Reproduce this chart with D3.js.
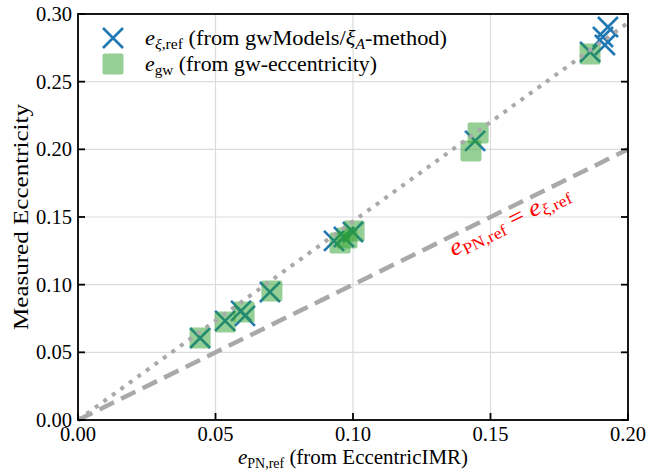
<!DOCTYPE html>
<html>
<head>
<meta charset="utf-8">
<script src="https://cdn.jsdelivr.net/npm/d3@7"></script>
<style>
  body { margin: 0; background: #fff; }
  svg { display: block; }
  text { font-family: "Liberation Serif", "DejaVu Serif", serif; }
</style>
</head>
<body>
<svg id="chart" width="653" height="475"></svg>
<script>
// e_PN,ref (EccentricIMR) vs e_xi,ref (gwModels / xi_A method)
const xiPN = [0.0444, 0.0535, 0.0593, 0.0607, 0.0698, 0.0931, 0.0967, 0.1000, 0.1444, 0.1862, 0.1916, 0.1909, 0.1927];
const xiE  = [0.0606, 0.0732, 0.0806, 0.0769, 0.0946, 0.1323, 0.1352, 0.1389, 0.2062, 0.2719, 0.2771, 0.2830, 0.2904];

// e_PN,ref vs e_gw (gw-eccentricity)
const gwPN = [0.0444, 0.0535, 0.0604, 0.0705, 0.0953, 0.0978, 0.1004, 0.1429, 0.1455, 0.1862];
const gwE  = [0.0606, 0.0725, 0.0798, 0.0953, 0.1308, 0.1345, 0.1397, 0.1988, 0.2120, 0.2704];

// trend line and equality line
const trendX = [0, 0.2];
const trendY = [0, 0.2935];
const equalX = [0, 0.2];
const equalY = [0, 0.2];

const xTicks = [0, 0.05, 0.10, 0.15, 0.20];
const yTicks = [0, 0.05, 0.10, 0.15, 0.20, 0.25, 0.30];

const W = 653, H = 475;
const m = { left: 78, right: 25, top: 14, bottom: 55 };
const svg = d3.select("#chart");

const x = d3.scaleLinear().domain([0, 0.2]).range([m.left, W - m.right]);
const y = d3.scaleLinear().domain([0, 0.3]).range([H - m.bottom, m.top]);

const blue = "#1f77b4", green = "#2ca02c", grey = "#a9a9a9";

// grid
const grid = svg.append("g");
grid.selectAll(".gx").data(xTicks).join("line")
  .attr("x1", d => x(d)).attr("x2", d => x(d))
  .attr("y1", y(0)).attr("y2", y(0.3))
  .attr("stroke", "#dcdcdc").attr("stroke-width", 1.2);
grid.selectAll(".gy").data(yTicks).join("line")
  .attr("y1", d => y(d)).attr("y2", d => y(d))
  .attr("x1", x(0)).attr("x2", x(0.2))
  .attr("stroke", "#dcdcdc").attr("stroke-width", 1.2);

const s = 10;
const crossPath = `M${-s},${-s}L${s},${s}M${-s},${s}L${s},${-s}`;
const sq = 21;

// crosses
const xiPts = xiPN.map((d, i) => [d, xiE[i]]);
svg.append("g").selectAll("path").data(xiPts).join("path")
  .attr("transform", d => `translate(${x(d[0])},${y(d[1])})`)
  .attr("d", crossPath)
  .attr("fill", "none").attr("stroke", blue).attr("stroke-width", 2.6);

// squares
const gwPts = gwPN.map((d, i) => [d, gwE[i]]);
svg.append("g").selectAll("rect").data(gwPts).join("rect")
  .attr("x", d => x(d[0]) - sq / 2).attr("y", d => y(d[1]) - sq / 2)
  .attr("width", sq).attr("height", sq).attr("rx", 2)
  .attr("fill", green).attr("fill-opacity", 0.5);

const line = d3.line().x(d => x(d[0])).y(d => y(d[1]));

// trend (dotted)
svg.append("path")
  .attr("d", line(trendX.map((d, i) => [d, trendY[i]])))
  .attr("fill", "none").attr("stroke", grey).attr("stroke-width", 4)
  .attr("stroke-dasharray", "4,6.5");

// equality (dashed)
svg.append("path")
  .attr("d", line(equalX.map((d, i) => [d, equalY[i]])))
  .attr("fill", "none").attr("stroke", grey).attr("stroke-width", 4.5)
  .attr("stroke-dasharray", "16,8");

// frame (no top ticks)
const frame = svg.append("g").attr("stroke", "#000").attr("stroke-width", 1.8);
frame.append("rect")
  .attr("x", x(0)).attr("y", y(0.3))
  .attr("width", x(0.2) - x(0)).attr("height", y(0) - y(0.3))
  .attr("fill", "none");
const tl = 7;
frame.selectAll(".tx").data(xTicks).join("line")
  .attr("x1", d => x(d)).attr("x2", d => x(d))
  .attr("y1", y(0)).attr("y2", y(0) - tl);
frame.selectAll(".tyl").data(yTicks).join("line")
  .attr("y1", d => y(d)).attr("y2", d => y(d))
  .attr("x1", x(0)).attr("x2", x(0) + tl);
frame.selectAll(".tyr").data(yTicks).join("line")
  .attr("y1", d => y(d)).attr("y2", d => y(d))
  .attr("x1", x(0.2)).attr("x2", x(0.2) - tl);

// tick labels
const fmt = d3.format(".2f");
svg.append("g").selectAll("text").data(xTicks).join("text")
  .attr("x", d => x(d)).attr("y", y(0) + 21)
  .attr("text-anchor", "middle").attr("font-size", 20)
  .attr("textLength", 36).attr("lengthAdjust", "spacingAndGlyphs")
  .text(d => fmt(d));
svg.append("g").selectAll("text").data(yTicks).join("text")
  .attr("x", x(0) - 6).attr("y", d => y(d) + 7)
  .attr("text-anchor", "end").attr("font-size", 20)
  .attr("textLength", 36).attr("lengthAdjust", "spacingAndGlyphs")
  .text(d => fmt(d));

// helper for "e" with subscript
function subText(sel, parts) {
  parts.forEach(p => {
    const t = sel.append("tspan").text(p.t);
    if (p.it) t.attr("font-style", "italic");
    if (p.size) t.attr("font-size", p.size);
    if (p.dy) t.attr("dy", p.dy);
  });
}

// x label
const xl = svg.append("text")
  .attr("x", (x(0) + x(0.2)) / 2).attr("y", H - 11)
  .attr("text-anchor", "middle").attr("font-size", 21)
  .attr("textLength", 230).attr("lengthAdjust", "spacingAndGlyphs");
subText(xl, [
  { t: "e", it: true },
  { t: "PN,ref", size: 14, dy: 4 },
  { t: " (from EccentricIMR)", dy: -4 }
]);

// y label
svg.append("text")
  .attr("transform", `translate(28,${(y(0) + y(0.3)) / 2}) rotate(-90)`)
  .attr("text-anchor", "middle").attr("font-size", 22)
  .attr("textLength", 226).attr("lengthAdjust", "spacingAndGlyphs")
  .text("Measured Eccentricity");

// label on the equality line
const ax = 0.155;
const ang = Math.atan2(y(0.2) - y(0), x(0.2) - x(0)) * 180 / Math.PI;
const lab = svg.append("text")
  .attr("transform", `translate(${x(ax)},${y(ax)}) rotate(${ang})`)
  .attr("x", 0).attr("y", 19)
  .attr("text-anchor", "middle").attr("font-size", 24).attr("fill", "#ff0000")
  .attr("textLength", 132).attr("lengthAdjust", "spacingAndGlyphs");
subText(lab, [
  { t: "e", it: true },
  { t: "PN,ref", size: 16, dy: 4 },
  { t: " = ", dy: -4 },
  { t: "e", it: true },
  { t: "ξ", it: true, size: 16, dy: 4 },
  { t: ",ref", size: 16 }
]);

// legend
const lg = svg.append("g");
lg.append("path")
  .attr("transform", `translate(113,38)`)
  .attr("d", crossPath).attr("fill", "none")
  .attr("stroke", blue).attr("stroke-width", 2.6);
lg.append("rect")
  .attr("x", 113 - sq / 2).attr("y", 64 - sq / 2)
  .attr("width", sq).attr("height", sq).attr("rx", 2)
  .attr("fill", green).attr("fill-opacity", 0.5);
const l1 = lg.append("text").attr("x", 145).attr("y", 45).attr("font-size", 20)
  .attr("textLength", 302).attr("lengthAdjust", "spacingAndGlyphs");
subText(l1, [
  { t: "e", it: true },
  { t: "ξ", it: true, size: 14, dy: 4 },
  { t: ",ref", size: 14 },
  { t: " (from gwModels/", dy: -4 },
  { t: "ξ", it: true },
  { t: "A", it: true, size: 14, dy: 4 },
  { t: "-method)", dy: -4 }
]);
const l2 = lg.append("text").attr("x", 145).attr("y", 71).attr("font-size", 20)
  .attr("textLength", 232).attr("lengthAdjust", "spacingAndGlyphs");
subText(l2, [
  { t: "e", it: true },
  { t: "gw", size: 14, dy: 4 },
  { t: " (from gw-eccentricity)", dy: -4 }
]);
</script>
</body>
</html>
